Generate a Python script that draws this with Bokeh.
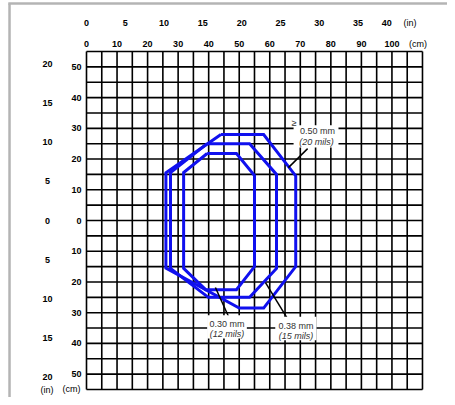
import numpy as np
from bokeh.plotting import figure
from bokeh.models import Range1d
from bokeh.core.properties import value
from bokeh.embed import file_html
from bokeh.resources import INLINE

# ---- data (cm) ----
x_cm_ticks = [0, 10, 20, 30, 40, 50, 60, 70, 80, 90, 100]
x_in_ticks = [0, 5, 10, 15, 20, 25, 30, 35, 40]
y_cm_ticks = [50, 40, 30, 20, 10, 0, -10, -20, -30, -40, -50]
y_in_ticks = [20, 15, 10, 5, 0, -5, -10, -15, -20]

# 0.50 mm (20 mils)
z50_x = [44, 58, 68.5, 68.5, 58, 50, 26, 26]
z50_y = [28, 28, 14.5, -15, -28.5, -28.5, -15.5, 15.5]
# 0.38 mm (15 mils)
z38_x = [39.5, 53.4, 62.2, 62.2, 53.4, 39.9, 27.5, 27.5]
z38_y = [25, 25, 15, -15.6, -25, -25, -15.6, 15.6]
# 0.30 mm (12 mils)
z30_x = [39.5, 49.1, 55, 55, 49.1, 39, 31.8, 31.8]
z30_y = [21.8, 21.8, 14.6, -15, -22.5, -22.5, -15.6, 15.6]

IN = 2.54
FONT = value("Liberation Sans")

p = figure(width=447, height=397, output_backend="svg", toolbar_location=None,
           x_range=Range1d(-28.155, 118.19), y_range=Range1d(-57.60, 71.60),
           min_border=0)
p.axis.visible = False
p.grid.visible = False
p.outline_line_color = None
p.background_fill_color = "white"

# grey frame
p.segment(x0=[-25.2, -25.6], y0=[70.6, 70.6], x1=[-25.2, 118.19], y1=[-57.6, 70.6],
          line_color="#b4b4b4", line_width=2.5)

# grid
gx = np.arange(0, 111, 5)
gy = np.arange(-55, 56, 5)
p.segment(x0=gx, y0=-55, x1=gx, y1=55, line_color="black", line_width=1.6)
p.segment(x0=0, y0=gy, x1=110, y1=gy, line_color="black", line_width=1.6)

# zones
for xs, ys in [(z50_x, z50_y), (z38_x, z38_y), (z30_x, z30_y)]:
    p.line(x=xs + xs[:1], y=ys + ys[:1], line_color="#1010ee", line_width=3,
           line_join="miter")

# leader lines
p.segment(x0=[72.4, 42.2, 58.6], y0=[23.4, -21.8, -20.2],
          x1=[66.1, 46.8, 65.8], y1=[17.2, -31.9, -31.9],
          line_color="black", line_width=1.5)

# label boxes
p.quad(left=[67.8, 39.5, 61.8], right=[82.5, 52.5, 75.3],
       top=[31.0, -30.8, -31.3], bottom=[23.8, -38.4, -39.0],
       fill_color="white", line_color=None)

tc = "#333333"
p.text(x=[75.6, 46.0, 68.6], y=[29.0, -33.7, -34.3],
       text=["0.50 mm", "0.30 mm", "0.38 mm"], text_font=FONT, text_font_size="9px",
       text_align="center", text_baseline="middle", text_color=tc)
p.text(x=[75.3, 46.0, 68.6], y=[25.4, -36.9, -37.5],
       text=["(20 mils)", "(12 mils)", "(15 mils)"], text_font=FONT, text_font_size="9px",
       text_font_style="italic", text_align="center", text_baseline="middle", text_color=tc)
p.text(x=[68.0], y=[31.6], text=["\u2265"], text_font=FONT, text_font_size="9px",
       text_align="center", text_baseline="middle", text_color=tc)

# top tick labels
p.text(x=x_cm_ticks, y=[57.6] * len(x_cm_ticks), text=[str(v) for v in x_cm_ticks],
       text_font=FONT, text_font_size="9px", text_font_style="bold",
       text_align="center", text_baseline="middle", text_color="black")
p.text(x=[v * IN for v in x_in_ticks], y=[64.4] * len(x_in_ticks),
       text=[str(v) for v in x_in_ticks],
       x_offset=[0] * (len(x_in_ticks) - 1) + [-10],
       text_font=FONT, text_font_size="9px", text_font_style="bold",
       text_align="center", text_baseline="middle", text_color="black")
p.text(x=[103.8, 105.6], y=[64.4, 57.6], text=["(in)", "(cm)"], text_font=FONT,
       text_font_size="9px", text_align="left", text_baseline="middle", text_color="black")

# left tick labels
p.text(x=[-1.6] * len(y_cm_ticks), y=y_cm_ticks, text=[str(abs(v)) for v in y_cm_ticks],
       text_font=FONT, text_font_size="9px", text_font_style="bold",
       text_align="right", text_baseline="middle", text_color="black")
p.text(x=[-12.8] * len(y_in_ticks), y=[v * IN for v in y_in_ticks],
       text=[str(abs(v)) for v in y_in_ticks],
       text_font=FONT, text_font_size="9px", text_font_style="bold",
       text_align="center", text_baseline="middle", text_color="black")
p.text(x=[-12.9, -4.9], y=[-55.2, -54.9], text=["(in)", "(cm)"], text_font=FONT,
       text_font_size="9px", text_align="center", text_baseline="middle", text_color="black")

open("out.html", "w").write(file_html(p, INLINE))
